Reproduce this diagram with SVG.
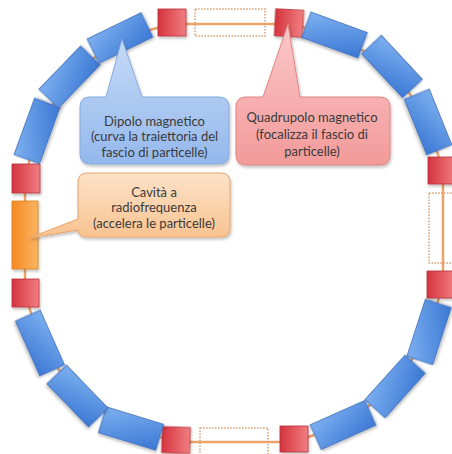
<svg xmlns="http://www.w3.org/2000/svg" width="452" height="454" viewBox="0 0 452 454">
<defs>
<linearGradient id="gBlue" x1="0" y1="0" x2="1" y2="1"><stop offset="0" stop-color="#7db0f0"/><stop offset="1" stop-color="#3b78d4"/></linearGradient>
<linearGradient id="gRed" x1="0" y1="0" x2="1" y2="0"><stop offset="0" stop-color="#d5343d"/><stop offset="1" stop-color="#f07e82"/></linearGradient>
<linearGradient id="gOrange" x1="0" y1="0" x2="1" y2="0"><stop offset="0" stop-color="#f68a22"/><stop offset="1" stop-color="#fbb462"/></linearGradient>
<linearGradient id="cBlue" x1="0" y1="0" x2="0" y2="1"><stop offset="0" stop-color="#c6daf6"/><stop offset="1" stop-color="#94b8ec"/></linearGradient>
<linearGradient id="cRed" x1="0" y1="0" x2="0" y2="1"><stop offset="0" stop-color="#fbc8c8"/><stop offset="1" stop-color="#f39a9a"/></linearGradient>
<linearGradient id="cOrange" x1="0" y1="0" x2="0" y2="1"><stop offset="0" stop-color="#fde2c8"/><stop offset="1" stop-color="#f9c290"/></linearGradient>
<filter id="sh" x="-20%" y="-20%" width="140%" height="140%"><feDropShadow dx="1" dy="2" stdDeviation="1.5" flood-color="#000" flood-opacity="0.25"/></filter>
</defs>
<style>
.blue{fill:url(#gBlue);stroke:#3c6cb8;stroke-width:0.8;filter:url(#sh)}
.red{fill:url(#gRed);stroke:#b8323a;stroke-width:0.8;filter:url(#sh)}
.cav{fill:url(#gOrange);stroke:#d8801e;stroke-width:0.8;filter:url(#sh)}
.dot{fill:none;stroke:#d9a47a;stroke-width:1.6;stroke-dasharray:1.6 1.4}
.beam{fill:none;stroke:#eba36a;stroke-width:2.5;stroke-linejoin:round}
.t{font-family:Lato,"Open Sans",sans-serif;font-size:13px;fill:#3a3a3a;text-anchor:middle}
</style>
<rect width="452" height="454" fill="#ffffff"/>
<g id="connectors">
<path class="beam" d="M172,24 L289,24 L334.5,35 L392,66.5 L428,122 L443,171 L443,284 L429,332 L395,386.5 L343,425 L294,442 L176,442 L131,428.5 L77.5,396 L40,343 L25,293 L25,178 L37,131 L69.5,77 L120,38 Z"/>
</g>
<g id="straight-top">
<rect class="dot" x="195" y="9" width="70" height="27"/>
<rect class="red" x="158" y="9" width="28" height="27"/>
<rect class="red" x="275" y="9.5" width="28" height="27" transform="rotate(3 289 23)"/>
</g>
<g id="straight-right">
<rect class="dot" x="429" y="193" width="30" height="70"/>
<rect class="red" x="428" y="157" width="28" height="27"/>
<rect class="red" x="427" y="271" width="28" height="27"/>
</g>
<g id="straight-bottom">
<rect class="dot" x="200" y="428" width="68" height="30"/>
<rect class="red" x="162" y="427" width="28" height="26" transform="rotate(2 176 440)"/>
<rect class="red" x="280" y="426" width="28" height="26"/>
</g>
<g id="straight-left">
<rect class="red" x="12" y="164" width="28" height="29"/>
<rect class="cav" x="12" y="201" width="26" height="68"/>
<rect class="red" x="12" y="279" width="27" height="28"/>
</g>
<g id="arc-top-right">
<rect class="blue" x="-30" y="-13.5" width="60" height="27" transform="translate(334.5 35) rotate(20)"/>
<rect class="blue" x="-30" y="-13.5" width="60" height="27" transform="translate(392 66.5) rotate(47)"/>
<rect class="blue" x="-30" y="-13.5" width="60" height="27" transform="translate(428 122) rotate(68)"/>
</g>
<g id="arc-bottom-right">
<rect class="blue" x="-30" y="-13.5" width="60" height="27" transform="translate(429 332) rotate(-72)"/>
<rect class="blue" x="-30" y="-13.5" width="60" height="27" transform="translate(395 386.5) rotate(-48)"/>
<rect class="blue" x="-30" y="-13.5" width="60" height="27" transform="translate(343 425) rotate(-24)"/>
</g>
<g id="arc-bottom-left">
<rect class="blue" x="-30" y="-13.5" width="60" height="27" transform="translate(131 428.5) rotate(17)"/>
<rect class="blue" x="-30" y="-13.5" width="60" height="27" transform="translate(77.5 396) rotate(46)"/>
<rect class="blue" x="-30" y="-13.5" width="60" height="27" transform="translate(40 343) rotate(66)"/>
</g>
<g id="arc-top-left">
<rect class="blue" x="-30" y="-13.5" width="60" height="27" transform="translate(37 131) rotate(-70)"/>
<rect class="blue" x="-30" y="-13.5" width="60" height="27" transform="translate(69.5 77) rotate(-46)"/>
<rect class="blue" x="-30" y="-13.5" width="60" height="27" transform="translate(120 38) rotate(-26)"/>
</g>
<g id="callout-dipolo">
<path d="M90,97 L106,97 L122,39 L142,97 L219,97 Q229,97 229,107 L229,154 Q229,164 219,164 L90,164 Q80,164 80,154 L80,107 Q80,97 90,97 Z" fill="url(#cBlue)" stroke="#86a9dc" stroke-width="1" filter="url(#sh)"/>
<text class="t" x="154.5" y="125.5">Dipolo magnetico</text>
<text class="t" x="154.5" y="141">(curva la traiettoria del</text>
<text class="t" x="154.5" y="156.5">fascio di particelle)</text>
</g>
<g id="callout-quadrupolo">
<path d="M246,97 L263,97 L288,24 L300,97 L380,97 Q390,97 390,107 L390,155 Q390,165 380,165 L246,165 Q236,165 236,155 L236,107 Q236,97 246,97 Z" fill="url(#cRed)" stroke="#e08484" stroke-width="1" filter="url(#sh)"/>
<text class="t" x="312" y="121.5">Quadrupolo magnetico</text>
<text class="t" x="312" y="138.5">(focalizza il fascio di</text>
<text class="t" x="312" y="155.5">particelle)</text>
</g>
<g id="callout-cavita">
<path d="M87,173 L221,173 Q230,173 230,182 L230,228 Q230,237 221,237 L87,237 Q78,237 78,230 L29,238 L78,219 L78,182 Q78,173 87,173 Z" fill="url(#cOrange)" stroke="#e8a46c" stroke-width="1" filter="url(#sh)"/>
<text class="t" x="154" y="196.5">Cavità a</text>
<text class="t" x="154" y="212">radiofrequenza</text>
<text class="t" x="154" y="227.5">(accelera le particelle)</text>
</g>
</svg>
